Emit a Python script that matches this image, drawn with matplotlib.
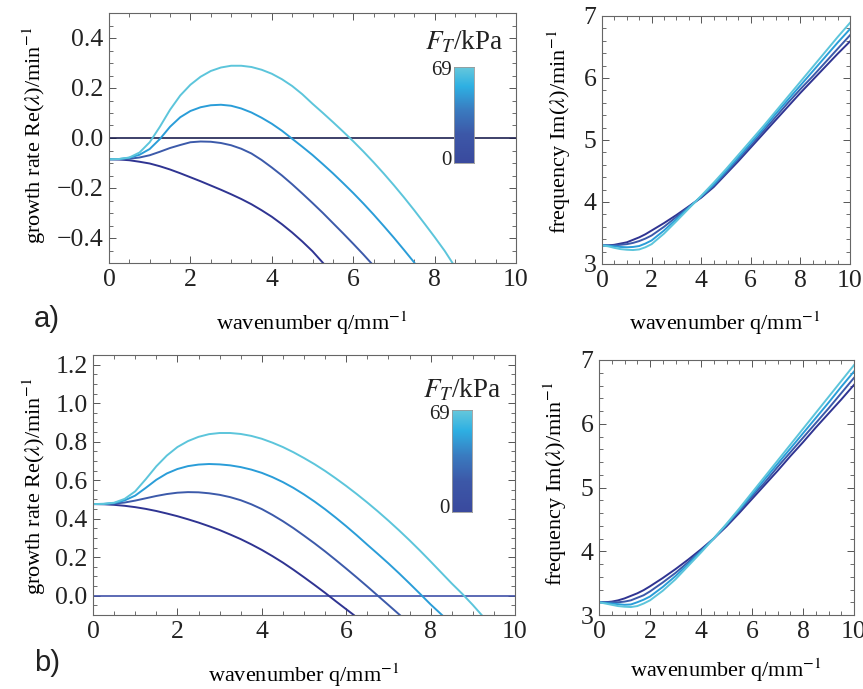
import numpy as np
import matplotlib
matplotlib.use("Agg")
import matplotlib.pyplot as plt
from matplotlib.colors import LinearSegmentedColormap
from matplotlib.ticker import MultipleLocator

plt.rcParams["font.family"] = ["Liberation Serif", "DejaVu Serif"]
plt.rcParams["mathtext.fontset"] = "stix"

# ---- data: growth rate Re(lambda), panel a (four traction levels, low -> high)
# wavenumbers sampled every 0.25 mm^-1, each curve ending where it leaves the frame
A_q1 = np.r_[np.arange(0, 5.01, 0.25), 5.26]
A_g1 = [-0.085, -0.086, -0.089, -0.095, -0.102, -0.113, -0.126, -0.141, -0.157, -0.173, -0.19,
        -0.207, -0.225, -0.244, -0.265, -0.289, -0.315, -0.345, -0.378, -0.414, -0.453, -0.5]
A_q2 = np.r_[np.arange(0, 6.26, 0.25), 6.44]
A_g2 = [-0.085, -0.085, -0.083, -0.078, -0.069, -0.055, -0.040, -0.028, -0.017, -0.014, -0.015,
        -0.020, -0.029, -0.043, -0.062, -0.088, -0.118, -0.150, -0.185, -0.222, -0.26, -0.299,
        -0.34, -0.381, -0.423, -0.466, -0.5]
A_q3 = np.arange(0, 7.51, 0.25)
A_g3 = [-0.085, -0.084, -0.079, -0.067, -0.044, -0.004, 0.045, 0.083, 0.108, 0.123, 0.131, 0.133,
        0.129, 0.118, 0.102, 0.081, 0.057, 0.029, -0.003, -0.035, -0.068, -0.104, -0.141, -0.18,
        -0.22, -0.262, -0.306, -0.352, -0.399, -0.448, -0.498]
A_q4 = np.r_[np.arange(0, 8.26, 0.25), 8.44]
A_g4 = [-0.085, -0.084, -0.078, -0.058, -0.017, 0.045, 0.113, 0.17, 0.213, 0.245, 0.268, 0.282,
        0.289, 0.289, 0.284, 0.273, 0.257, 0.235, 0.208, 0.175, 0.137, 0.101, 0.064, 0.026, -0.013,
        -0.054, -0.097, -0.142, -0.189, -0.238, -0.289, -0.342, -0.396, -0.452, -0.5]

# ---- data: growth rate Re(lambda), panel b
B_q1 = np.r_[np.arange(0, 6.01, 0.25), 6.18]
B_g1 = [0.476, 0.475, 0.472, 0.467, 0.46, 0.451, 0.44, 0.427, 0.413, 0.397, 0.38, 0.361, 0.341,
        0.318, 0.294, 0.267, 0.238, 0.206, 0.172, 0.135, 0.096, 0.056, 0.015, -0.028, -0.07, -0.1]
B_q2 = np.r_[np.arange(0, 7.01, 0.25), 7.27]
B_g2 = [0.476, 0.476, 0.478, 0.484, 0.494, 0.506, 0.518, 0.528, 0.535, 0.538, 0.537, 0.532, 0.524,
        0.512, 0.496, 0.475, 0.45, 0.42, 0.387, 0.351, 0.312, 0.272, 0.23, 0.186, 0.141, 0.095,
        0.048, 0.0, -0.048, -0.1]
B_q3 = np.r_[np.arange(0, 8.01, 0.25), 8.27]
B_g3 = [0.476, 0.477, 0.481, 0.495, 0.52, 0.56, 0.602, 0.635, 0.658, 0.673, 0.681, 0.684, 0.682,
        0.677, 0.668, 0.655, 0.638, 0.616, 0.59, 0.56, 0.526, 0.489, 0.449, 0.406, 0.361, 0.314,
        0.265, 0.217, 0.168, 0.117, 0.064, 0.01, -0.045, -0.1]
B_q4 = np.r_[np.arange(0, 9.01, 0.25), 9.21]
B_g4 = [0.476, 0.477, 0.483, 0.503, 0.542, 0.605, 0.672, 0.728, 0.772, 0.803, 0.825, 0.839, 0.845,
        0.845, 0.84, 0.83, 0.815, 0.795, 0.772, 0.745, 0.715, 0.683, 0.648, 0.61, 0.57, 0.528, 0.484,
        0.438, 0.39, 0.34, 0.288, 0.234, 0.178, 0.121, 0.064, 0.01, -0.048, -0.1]

# ---- data: frequency Im(lambda)
F_q = [0, 0.25, 0.5, 0.75, 1.0, 1.25, 1.5, 1.75, 2.0, 2.5, 3.0, 3.5, 4.0, 4.5, 5.0, 5.5, 6.0, 6.5,
       7.0, 7.5, 8.0, 8.5, 9.0, 9.5, 10.0]
A_f1 = [3.30, 3.30, 3.31, 3.33, 3.35, 3.39, 3.43, 3.48, 3.54, 3.66, 3.79, 3.93, 4.07, 4.24, 4.45, 4.66,
        4.88, 5.10, 5.32, 5.54, 5.76, 5.97, 6.18, 6.39, 6.59]
A_f2 = [3.30, 3.30, 3.30, 3.31, 3.32, 3.34, 3.37, 3.41, 3.46, 3.60, 3.76, 3.92, 4.08, 4.26, 4.47, 4.69,
        4.91, 5.14, 5.37, 5.60, 5.82, 6.03, 6.25, 6.47, 6.69]
A_f3 = [3.30, 3.295, 3.285, 3.275, 3.27, 3.275, 3.29, 3.33, 3.38, 3.54, 3.725, 3.91, 4.09, 4.28, 4.50,
        4.72, 4.95, 5.18, 5.42, 5.65, 5.88, 6.11, 6.34, 6.57, 6.79]
A_f4 = [3.30, 3.285, 3.26, 3.24, 3.23, 3.225, 3.235, 3.27, 3.32, 3.49, 3.69, 3.895, 4.10, 4.31, 4.53,
        4.76, 4.99, 5.22, 5.46, 5.70, 5.94, 6.18, 6.42, 6.66, 6.89]
B_f1 = [3.20, 3.20, 3.21, 3.23, 3.26, 3.30, 3.34, 3.39, 3.45, 3.58, 3.72, 3.87, 4.03, 4.20, 4.39, 4.60,
        4.82, 5.04, 5.26, 5.49, 5.71, 5.94, 6.16, 6.38, 6.61]
B_f2 = [3.20, 3.20, 3.20, 3.20, 3.21, 3.23, 3.27, 3.31, 3.37, 3.51, 3.66, 3.83, 4.01, 4.20, 4.41, 4.63,
        4.86, 5.08, 5.32, 5.55, 5.78, 6.01, 6.24, 6.48, 6.72]
B_f3 = [3.20, 3.19, 3.18, 3.17, 3.16, 3.165, 3.20, 3.24, 3.29, 3.44, 3.61, 3.80, 4.00, 4.20, 4.42, 4.65,
        4.89, 5.13, 5.37, 5.61, 5.85, 6.09, 6.33, 6.58, 6.82]
B_f4 = [3.20, 3.18, 3.16, 3.14, 3.13, 3.125, 3.14, 3.18, 3.23, 3.38, 3.56, 3.77, 3.98, 4.20, 4.43, 4.67,
        4.92, 5.17, 5.42, 5.67, 5.92, 6.17, 6.42, 6.67, 6.92]

FT_range = [0, 69]
colors = ["#2f3492", "#3c5aaa", "#2a9dd8", "#5cc5db"]
cbar_cmap = LinearSegmentedColormap.from_list(
    "ft", [(0.0, "#3a4a9e"), (0.3, "#3d58a8"), (0.55, "#3a7bc0"), (0.8, "#2eb0e3"), (1.0, "#66c8dc")])

W, H = 863, 689
fig = plt.figure(figsize=(W / 100, H / 100), dpi=100)

TICK_FS = 18.5
LABEL_FS = 16


def px_axes(l, t, r, b):
    return fig.add_axes([l / W, 1 - b / H, (r - l) / W, (b - t) / H])


def style(ax, xminor, ymajor, yminor):
    ax.set_xlim(0, 10)
    ax.xaxis.set_major_locator(MultipleLocator(2))
    ax.xaxis.set_minor_locator(MultipleLocator(xminor))
    ax.yaxis.set_major_locator(MultipleLocator(ymajor))
    ax.yaxis.set_minor_locator(MultipleLocator(yminor))
    ax.tick_params(which="both", direction="in", top=True, right=True, color="#555555",
                   labelsize=TICK_FS, labelcolor="#222222")
    ax.tick_params(which="major", length=5, width=0.7)
    ax.tick_params(which="minor", length=3, width=0.6)
    ax.tick_params(axis="x", pad=4)
    ax.tick_params(axis="y", pad=4)
    for s in ax.spines.values():
        s.set_color("#666666")
        s.set_linewidth(0.8)


def colorbar_inset(l, t, r, b, title_y):
    cax = px_axes(l, t, r, b)
    grad = np.linspace(0, 1, 256).reshape(-1, 1)
    cax.imshow(grad, aspect="auto", cmap=cbar_cmap, origin="lower",
               extent=[0, 1, FT_range[0], FT_range[1]])
    cax.set_xticks([])
    cax.set_yticks([])
    for s in cax.spines.values():
        s.set_color("#999999")
        s.set_linewidth(0.6)
    cax.text(-0.12, 0.96, str(FT_range[1]), transform=cax.transAxes, ha="right", va="center",
             fontsize=15, color="#222222")
    cax.text(-0.12, 0.03, str(FT_range[0]), transform=cax.transAxes, ha="right", va="center",
             fontsize=15, color="#222222")
    cax.text(0.5, title_y, r"$F_T$/kPa", transform=cax.transAxes, ha="center", va="center",
             fontsize=19.5, color="#222222")


xlab = r"wavenumber q/mm$^{-1}$"
ylab_g = r"growth rate Re($\lambda$)/min$^{-1}$"
ylab_f = r"frequency Im($\lambda$)/min$^{-1}$"

# ---- panel a, growth rate
ax = px_axes(109, 13, 516, 263)
ax.axhline(0, color="#1c2050", lw=1.2)
for q, g, c in zip([A_q1, A_q2, A_q3, A_q4], [A_g1, A_g2, A_g3, A_g4], colors):
    ax.plot(q, g, color=c, lw=1.4)
ax.set_ylim(-0.5, 0.5)
style(ax, 0.5, 0.2, 0.05)
ax.set_xlabel(xlab, fontsize=LABEL_FS, va="center")
ax.xaxis.set_label_coords(0.499, -0.24)
ax.set_ylabel(ylab_g, fontsize=LABEL_FS, va="center")
ax.yaxis.set_label_coords(-0.184, 0.512)
colorbar_inset(454, 67, 474, 163, 1.26)

# ---- panel a, frequency
ax = px_axes(602, 16, 850, 264)
for f, c in zip([A_f1, A_f2, A_f3, A_f4], colors):
    ax.plot(F_q, f, color=c, lw=1.4)
ax.set_ylim(3, 7)
style(ax, 0.5, 1, 0.2)
ax.set_xlabel(xlab, fontsize=LABEL_FS, va="center")
ax.xaxis.set_label_coords(0.496, -0.238)
ax.set_ylabel(ylab_f, fontsize=LABEL_FS, va="center")
ax.yaxis.set_label_coords(-0.171, 0.532)

# ---- panel b, growth rate
ax = px_axes(93, 355, 515, 615)
ax.axhline(0, color="#4050a8", lw=1.2)
for q, g, c in zip([B_q1, B_q2, B_q3, B_q4], [B_g1, B_g2, B_g3, B_g4], colors):
    ax.plot(q, g, color=c, lw=1.4)
ax.set_ylim(-0.1, 1.25)
style(ax, 0.5, 0.2, 0.05)
ax.set_xlabel(xlab, fontsize=LABEL_FS, va="center")
ax.xaxis.set_label_coords(0.5, -0.23)
ax.set_ylabel(ylab_g, fontsize=LABEL_FS, va="center")
ax.yaxis.set_label_coords(-0.14, 0.496)
colorbar_inset(452, 410, 472, 512, 1.196)

# ---- panel b, frequency
ax = px_axes(599, 360, 854, 615)
for f, c in zip([B_f1, B_f2, B_f3, B_f4], colors):
    ax.plot(F_q, f, color=c, lw=1.4)
ax.set_ylim(3, 7)
style(ax, 0.5, 1, 0.2)
ax.set_xlabel(xlab, fontsize=LABEL_FS, va="center")
ax.xaxis.set_label_coords(0.498, -0.215)
ax.set_ylabel(ylab_f, fontsize=LABEL_FS, va="center")
ax.yaxis.set_label_coords(-0.173, 0.514)

# ---- panel letters
fig.text(47 / W, 1 - 319 / H, "a)", family="Liberation Sans", fontsize=21, ha="center", va="center",
         color="#222222")
fig.text(47 / W, 1 - 663 / H, "b)", family="Liberation Sans", fontsize=21, ha="center", va="center",
         color="#222222")

fig.savefig("out.png", dpi=100)
